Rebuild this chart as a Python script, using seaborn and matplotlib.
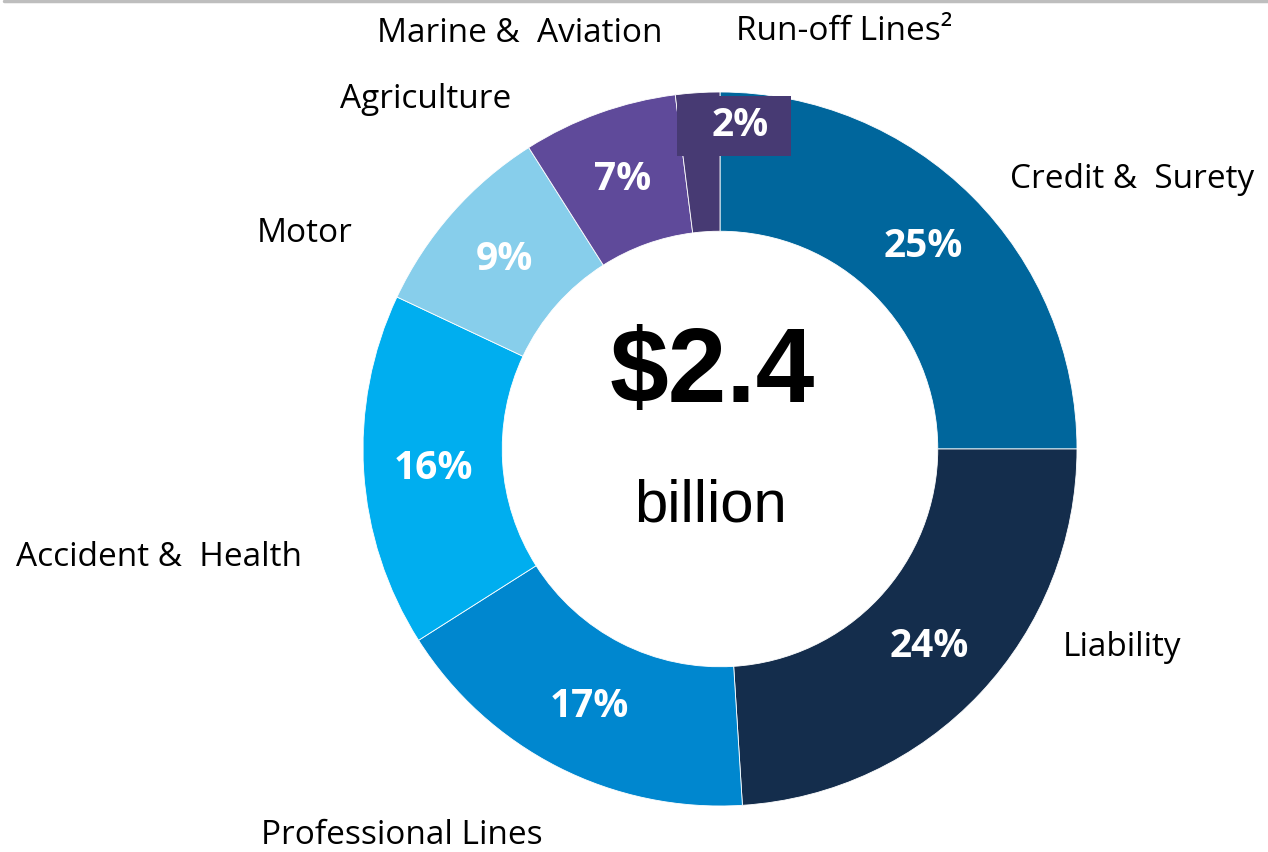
import matplotlib
matplotlib.use("Agg")
import matplotlib.pyplot as plt
from matplotlib.lines import Line2D
from matplotlib.patches import Rectangle
import seaborn as sns

sns.set_theme(style="white")
plt.rcParams["font.family"] = ["Open Sans", "DejaVu Sans"]

# Gross premiums by line of business (percent of total)
categories = ["Credit & Surety", "Liability", "Professional Lines", "Accident & Health",
              "Motor", "Agriculture", "Marine & Aviation", "Run-off Lines²"]
shares = [25, 24, 17, 16, 9, 7, 2, 0]
colors = ["#00669C", "#142D4C", "#0087CF", "#00AEEF",
          "#87CEEB", "#5F4A9A", "#473A73", "#473A73"]
total_value = "$2.4"
total_unit = "billion"

W, H = 1268, 853
fig = plt.figure(figsize=(W / 100, H / 100), dpi=100)
ax = fig.add_axes([0, 0, 1, 1])

cx, cy, R = 720, H - 450, 357
drawn = [(c, s, col) for c, s, col in zip(categories, shares, colors) if s > 0]
wedges, _, pct_texts = ax.pie(
    [d[1] for d in drawn],
    colors=[d[2] for d in drawn],
    center=(cx, cy), radius=R,
    startangle=90, counterclock=False,
    autopct=lambda p: f"{p:.0f}%", pctdistance=0.805,
    wedgeprops=dict(width=R * 0.39, edgecolor="white", linewidth=0.6),
    textprops=dict(color="white", fontsize=28, fontweight="bold"),
    frame=True,
)
ax.set_xlim(0, W)
ax.set_ylim(0, H)
ax.set_aspect("equal")
ax.axis("off")

# The smallest slice carries its label in a box straddling the top of the ring
small = pct_texts[-1]
bx, by = cx + 20, cy + 325
small.set_position((bx, by))
small.set_zorder(5)
ax.add_patch(Rectangle((bx - 63, by - 32), 114, 60, facecolor=colors[6],
                       edgecolor="none", zorder=4))

# Category labels around the ring
label_pos = {
    "Credit & Surety": (1010, 179, "left"),
    "Liability": (1063, 647, "left"),
    "Professional Lines": (402, 836, "center"),
    "Accident & Health": (16, 558, "left"),
    "Motor": (257, 234, "left"),
    "Agriculture": (340, 99, "left"),
    "Marine & Aviation": (377, 33, "left"),
    "Run-off Lines²": (736, 31, "left"),
}
for name in categories:
    x, y, ha = label_pos[name]
    ax.text(x, H - y, name.replace("& ", "&  "), ha=ha, va="center",
            fontsize=24, color="black")

# Total in the centre of the ring
ax.text(cx - 8, H - 374, total_value, ha="center", va="center", fontsize=76,
        fontweight="bold", family=["Liberation Sans", "DejaVu Sans"], color="black")
ax.text(cx - 9, H - 506, total_unit, ha="center", va="center", fontsize=43,
        family=["Liberation Sans", "DejaVu Sans"], color="black")

# Thin rule along the top edge
fig.add_artist(Line2D([4 / W, 1], [1 - 1.5 / H, 1 - 1.5 / H], transform=fig.transFigure,
                      color="#BEBEBE", linewidth=2.5))

fig.savefig("out.png", dpi=100)
